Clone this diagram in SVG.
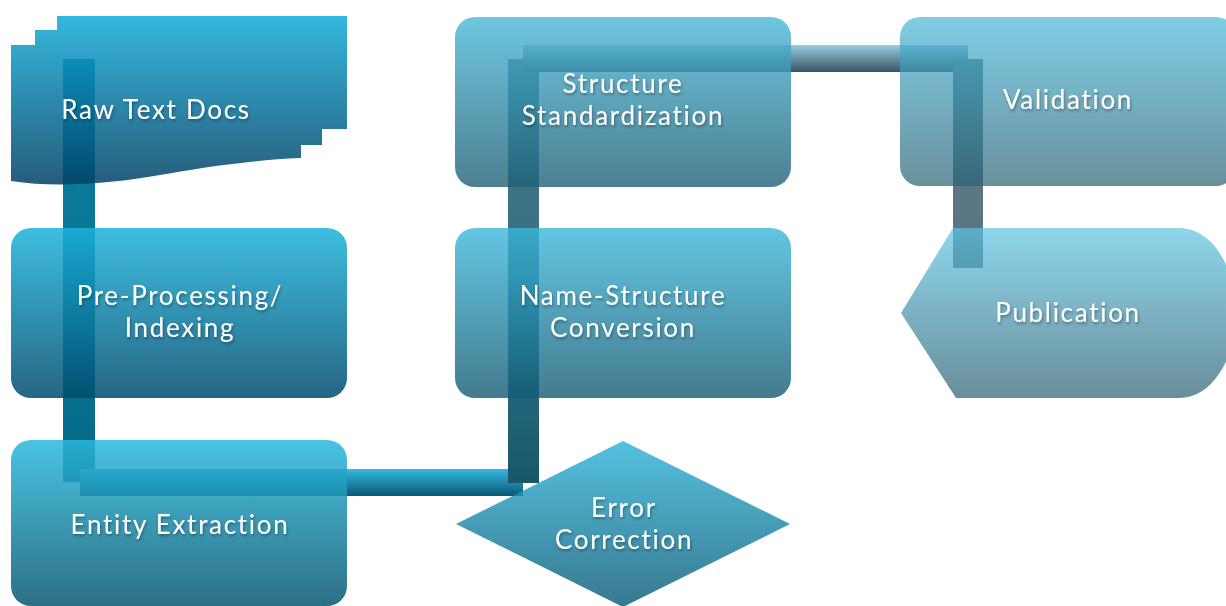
<svg xmlns="http://www.w3.org/2000/svg" width="1226" height="606" viewBox="0 0 1226 606">
<defs>
  <linearGradient id="gL1" x1="0" y1="0" x2="0" y2="1"><stop offset="0" stop-color="#10aad8"/><stop offset="1" stop-color="#004064"/></linearGradient>
  <linearGradient id="gL2" x1="0" y1="0" x2="0" y2="1"><stop offset="0" stop-color="#1bb2db"/><stop offset="1" stop-color="#004b6d"/></linearGradient>
  <linearGradient id="gL3" x1="0" y1="0" x2="0" y2="1"><stop offset="0" stop-color="#2ab8de"/><stop offset="1" stop-color="#08566f"/></linearGradient>
  <linearGradient id="gM1" x1="0" y1="0" x2="0" y2="1"><stop offset="0" stop-color="#4ab8d8"/><stop offset="1" stop-color="#1f6076"/></linearGradient>
  <linearGradient id="gM2" x1="0" y1="0" x2="0" y2="1"><stop offset="0" stop-color="#3bb8dc"/><stop offset="1" stop-color="#145a72"/></linearGradient>
  <linearGradient id="gM3" x1="0" y1="0" x2="0" y2="1"><stop offset="0" stop-color="#29b2d8"/><stop offset="1" stop-color="#055672"/></linearGradient>
  <linearGradient id="gR1" x1="0" y1="0" x2="0" y2="1"><stop offset="0" stop-color="#48b8da"/><stop offset="1" stop-color="#2a6173"/></linearGradient>
  <linearGradient id="gR2" x1="0" y1="0" x2="0" y2="1"><stop offset="0" stop-color="#5ec5e4"/><stop offset="1" stop-color="#2a5e70"/></linearGradient>
  <linearGradient id="cV1" x1="0" y1="0" x2="0" y2="1"><stop offset="0" stop-color="#0b80a2"/><stop offset="1" stop-color="#066a88"/></linearGradient>
  <linearGradient id="cH1" x1="0" y1="0" x2="0" y2="1"><stop offset="0" stop-color="#36b9e0"/><stop offset="1" stop-color="#0a5775"/></linearGradient>
  <linearGradient id="cV2" x1="0" y1="0" x2="0" y2="1"><stop offset="0" stop-color="#2e7d95"/><stop offset="1" stop-color="#1a566a"/></linearGradient>
  <linearGradient id="cV3" x1="0" y1="0" x2="0" y2="1"><stop offset="0" stop-color="#3f7b8e"/><stop offset="1" stop-color="#3a6f80"/></linearGradient>
  <linearGradient id="cH2" x1="0" y1="0" x2="0" y2="1"><stop offset="0" stop-color="#94cde0"/><stop offset="1" stop-color="#3b5462"/></linearGradient>
  <linearGradient id="cV4" x1="0" y1="0" x2="0" y2="1"><stop offset="0" stop-color="#607d8a"/><stop offset="1" stop-color="#5a7380"/></linearGradient>
  <filter id="ts" x="-10%" y="-30%" width="120%" height="160%">
    <feDropShadow dx="1" dy="2" stdDeviation="1.5" flood-color="#000" flood-opacity="0.35"/>
  </filter>
</defs>
<style>
  .lbl { font-family: Lato, "Open Sans", "Liberation Sans", sans-serif; font-size: 26px; letter-spacing: 1.7px; fill: #ffffff; text-anchor: middle; filter: url(#ts); }
  .colL { fill-opacity: 0.85; }
  .colM { fill-opacity: 0.8; }
  .colR { fill-opacity: 0.7; }
</style>

<g id="connectors">
  <rect x="63" y="59" width="32" height="423" fill="url(#cV1)"/>
  <rect x="80" y="469" width="443" height="27" fill="url(#cH1)"/>
  <rect x="508" y="269" width="31" height="214" fill="url(#cV2)"/>
  <rect x="508" y="59" width="31" height="210" fill="url(#cV3)"/>
  <rect x="523" y="45" width="445" height="27" fill="url(#cH2)"/>
  <rect x="953" y="59" width="30" height="209" fill="url(#cV4)"/>
</g>

<g id="node-raw-text-docs">
  <path class="colL" fill="url(#gL1)" d="M11,45 H35 V30 H57 V16 H347 V129 H322 V145 H301 V158 C250,160 200,168 160,175 C120,182 60,189 11,181 Z"/>
  <text class="lbl" x="156" y="119">Raw Text Docs</text>
</g>

<g id="node-preprocessing">
  <rect class="colL" fill="url(#gL2)" x="11" y="228" width="336" height="170" rx="20"/>
  <text class="lbl" x="180" y="305">Pre-Processing/</text>
  <text class="lbl" x="180" y="337">Indexing</text>
</g>

<g id="node-entity-extraction">
  <rect class="colL" fill="url(#gL3)" x="11" y="440" width="336" height="166" rx="20"/>
  <text class="lbl" x="180" y="534">Entity Extraction</text>
</g>

<g id="node-structure-standardization">
  <rect class="colM" fill="url(#gM1)" x="455" y="17" width="336" height="170" rx="20"/>
  <text class="lbl" x="623" y="93">Structure</text>
  <text class="lbl" x="623" y="125">Standardization</text>
</g>

<g id="node-name-structure">
  <rect class="colM" fill="url(#gM2)" x="455" y="228" width="336" height="170" rx="20"/>
  <text class="lbl" x="623" y="305">Name-Structure</text>
  <text class="lbl" x="623" y="337">Conversion</text>
</g>

<g id="node-error-correction">
  <path class="colM" fill="url(#gM3)" d="M623,441 L790,524 L623,607 L456,524 Z"/>
  <text class="lbl" x="624" y="517">Error</text>
  <text class="lbl" x="624" y="549">Correction</text>
</g>

<g id="node-validation">
  <rect class="colR" fill="url(#gR1)" x="900" y="17" width="336" height="169" rx="20"/>
  <text class="lbl" x="1068" y="109">Validation</text>
</g>

<g id="node-publication">
  <path class="colR" fill="url(#gR2)" d="M901,313 L953,228 H1180 A56,85 0 0 1 1180,398 H956 Z"/>
  <text class="lbl" x="1068" y="322">Publication</text>
</g>
</svg>
